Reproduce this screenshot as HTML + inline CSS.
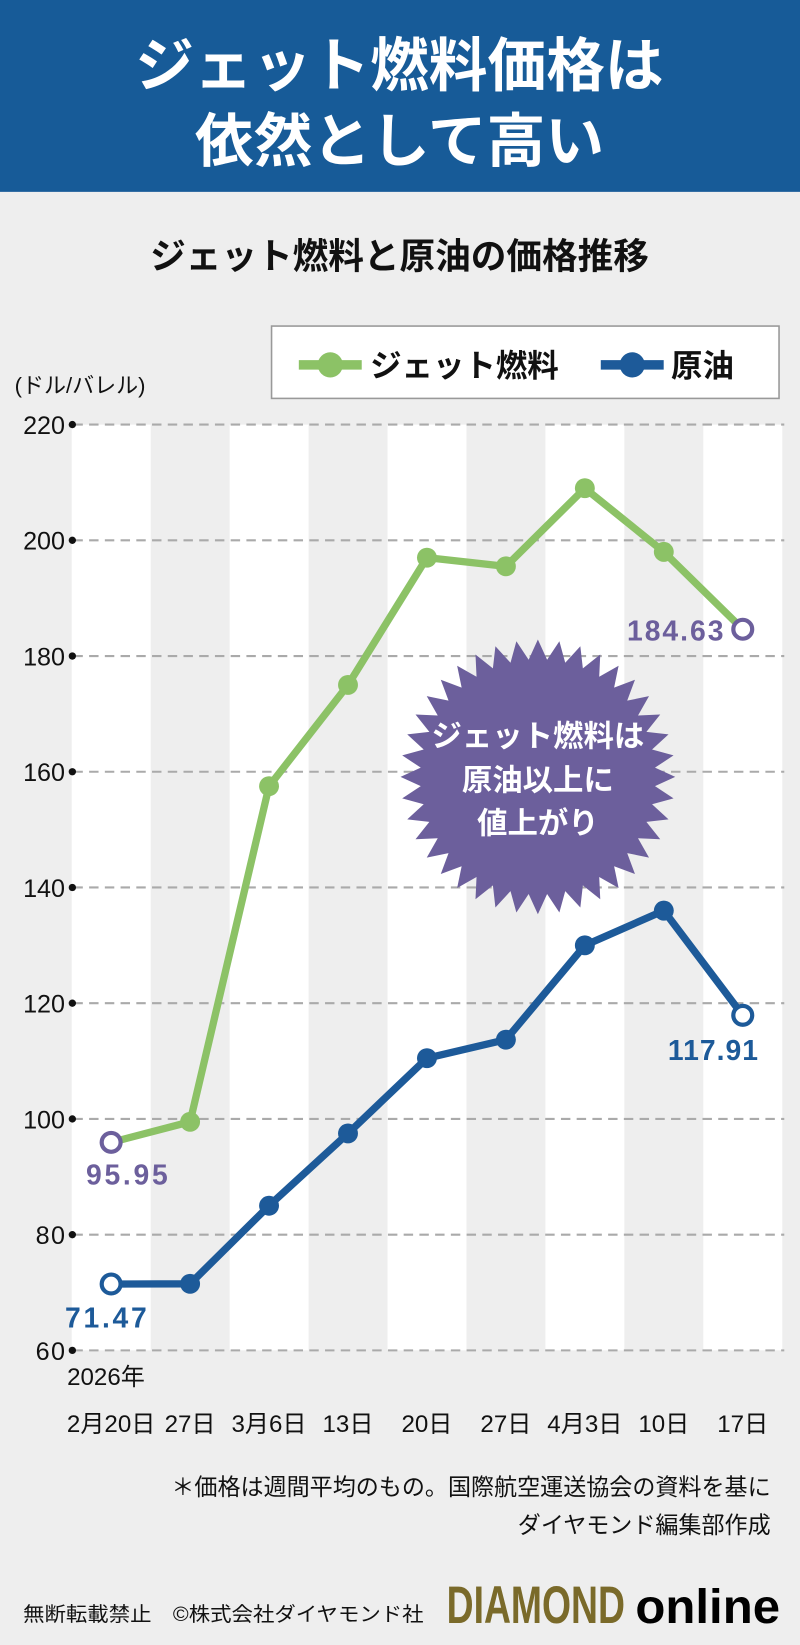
<!DOCTYPE html>
<html><head><meta charset="utf-8"><style>
html,body{margin:0;padding:0;background:#eeeeee;}
svg{display:block;}
text{font-family:"Liberation Sans","Noto Sans CJK JP",sans-serif;}
</style></head><body>
<svg id="s" width="800" height="1645" viewBox="0 0 763 1569" preserveAspectRatio="none" xmlns="http://www.w3.org/2000/svg">
<rect width="763" height="1569" fill="#eeeeee"/>
<rect width="763" height="183" fill="#175b98"/>
<text x="381" y="82" font-size="56" font-weight="bold" fill="#fff" text-anchor="middle">ジェット燃料価格は</text>
<text x="381" y="154" font-size="56" font-weight="bold" fill="#fff" text-anchor="middle">依然として高い</text>
<text x="381" y="256" font-size="34" font-weight="bold" fill="#111" text-anchor="middle">ジェット燃料と原油の価格推移</text>
<g id="stripes"></g>
<g id="grid"></g>
<rect x="259" y="311" width="484" height="69" fill="#fff" stroke="#999" stroke-width="1.5"/>
<line x1="285" y1="348" x2="345" y2="348" stroke="#8cc266" stroke-width="9"/>
<circle cx="315" cy="348" r="12" fill="#8cc266"/>
<text x="353" y="359" font-size="30" font-weight="bold" fill="#111">ジェット燃料</text>
<line x1="573" y1="348" x2="633" y2="348" stroke="#1d5a99" stroke-width="9"/>
<circle cx="603" cy="348" r="12" fill="#1d5a99"/>
<text x="640" y="359" font-size="30" font-weight="bold" fill="#111">原油</text>
<text x="14" y="375" font-size="21" fill="#111">(ドル/バレル)</text>
<g id="ylab"></g>
<polygon id="star" fill="#6c5f9c"/>
<text x="513" y="712" font-size="29" font-weight="bold" fill="#fff" text-anchor="middle">ジェット燃料は</text>
<text x="513" y="754" font-size="29" font-weight="bold" fill="#fff" text-anchor="middle">原油以上に</text>
<text x="513" y="795" font-size="29" font-weight="bold" fill="#fff" text-anchor="middle">値上がり</text>
<g id="series"></g>
<text x="82" y="1130" font-size="27" font-weight="bold" fill="#6c5f9c" textLength="78">95.95</text>
<text x="598" y="611" font-size="27" font-weight="bold" fill="#6c5f9c" textLength="92">184.63</text>
<text x="62" y="1266" font-size="27" font-weight="bold" fill="#1d5a99" textLength="78">71.47</text>
<text x="637" y="1011" font-size="27" font-weight="bold" fill="#1d5a99" textLength="86">117.91</text>
<text x="64" y="1321" font-size="23" fill="#111">2026年</text>
<g id="xlab"></g>
<text x="735" y="1426" font-size="22" fill="#111" text-anchor="end">＊価格は週間平均のもの。国際航空運送協会の資料を基に</text>
<text x="735" y="1462" font-size="22" fill="#111" text-anchor="end">ダイヤモンド編集部作成</text>
<text x="22" y="1546" font-size="19" fill="#111" textLength="382" lengthAdjust="spacingAndGlyphs">無断転載禁止　©株式会社ダイヤモンド社</text>
<text x="426" y="1548" font-size="50" font-weight="bold" fill="#7a6a2a" textLength="170" lengthAdjust="spacingAndGlyphs">DIAMOND</text>
<text x="606" y="1548" font-size="46" font-weight="bold" fill="#000" textLength="138" lengthAdjust="spacingAndGlyphs">online</text>
</svg>
<script>
var NS="http://www.w3.org/2000/svg";
function el(p,t,a,txt){var e=document.createElementNS(NS,t);for(var k in a)e.setAttribute(k,a[k]);if(txt)e.textContent=txt;document.getElementById(p).appendChild(e);return e;}
var xs=[];for(var i=0;i<9;i++)xs.push(106+i*75.3);
function Y(v){return 1288-(v-60)*5.519;}
for(var i=0;i<9;i+=2)el("stripes","rect",{x:xs[i]-37.6,y:405,width:75.3,height:883,fill:"#fff"});
for(var v=60;v<=220;v+=20){var y=Y(v);
 el("grid","line",{x1:70,y1:y,x2:748,y2:y,stroke:"#aaa","stroke-width":2,"stroke-dasharray":"9 6"});
 el("ylab","circle",{cx:69,cy:y,r:3.5,fill:"#111"});
 el("ylab","text",{x:62,y:y+9,"font-size":24,fill:"#111","text-anchor":"end",textLength:v>=100?40:28},String(v));}
var pts=[],N=40,cx=513,cy=741;
for(var i=0;i<2*N;i++){var r=i%2?112:131,a=i*Math.PI/N;pts.push((cx+r*Math.cos(a)).toFixed(1)+","+(cy+r*Math.sin(a)).toFixed(1));}
document.getElementById("star").setAttribute("points",pts.join(" "));
var jet=[95.95,99.5,157.5,175,197,195.5,209,198,184.63],oil=[71.47,71.5,85,97.5,110.5,113.7,130,136,117.91];
function ser(d,c,ec){var p=d.map(function(v,i){return xs[i]+","+Y(v)}).join(" ");
 el("series","polyline",{points:p,fill:"none",stroke:c,"stroke-width":7,"stroke-linejoin":"round"});
 d.forEach(function(v,i){if(i==0||i==8)el("series","circle",{cx:xs[i],cy:Y(v),r:9,fill:"#fff",stroke:ec,"stroke-width":4});
 else el("series","circle",{cx:xs[i],cy:Y(v),r:9.5,fill:c});});}
ser(jet,"#8cc266","#6c5f9c");ser(oil,"#1d5a99","#1d5a99");
var xl=["2月20日","27日","3月6日","13日","20日","27日","4月3日","10日","17日"];
xl.forEach(function(t,i){el("xlab","text",{x:xs[i],y:1366,"font-size":23,fill:"#111","text-anchor":"middle"},t);});
</script>
</body></html>
